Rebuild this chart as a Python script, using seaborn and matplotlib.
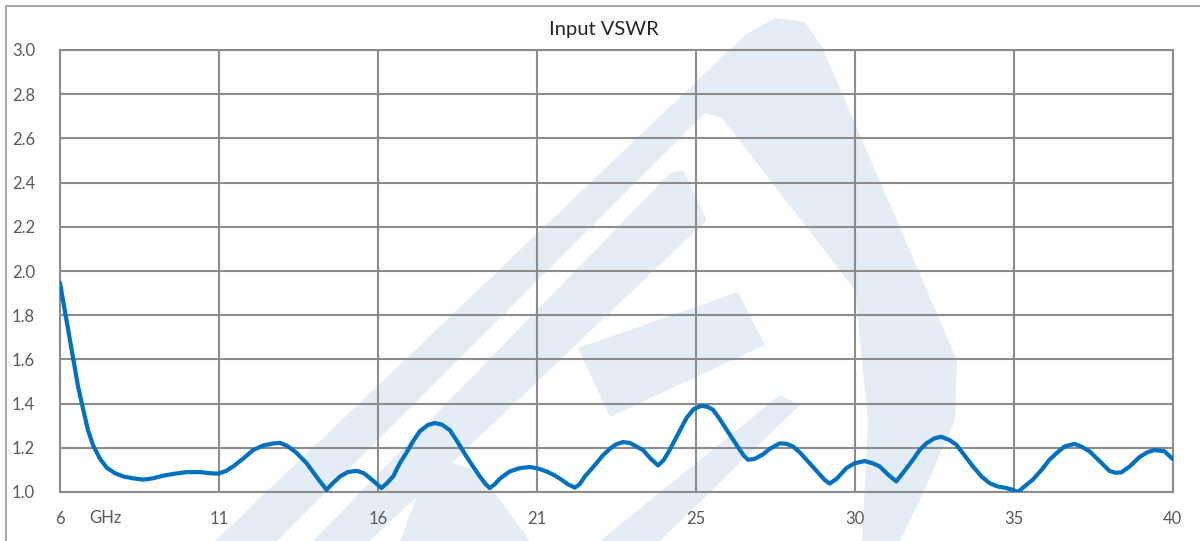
import matplotlib.pyplot as plt
import seaborn as sns
import pandas as pd
from matplotlib.patches import Polygon

# axis position in tick intervals (0 = 6 GHz ... 7 = 40 GHz) and VSWR
pos = [0.000, 0.038, 0.084, 0.113, 0.147, 0.176, 0.209, 0.252, 0.294, 0.346,
       0.398, 0.459, 0.524, 0.585, 0.650, 0.723, 0.797, 0.881, 0.943, 0.996,
       1.044, 1.090, 1.151, 1.216, 1.277, 1.342, 1.384, 1.426, 1.484, 1.552,
       1.623, 1.677, 1.717, 1.761, 1.811, 1.866, 1.912, 1.950, 1.987, 2.023,
       2.057, 2.096, 2.138, 2.182, 2.222, 2.264, 2.314, 2.358, 2.403, 2.453,
       2.503, 2.558, 2.604, 2.642, 2.679, 2.704, 2.736, 2.767, 2.830, 2.893,
       2.956, 3.006, 3.061, 3.113, 3.157, 3.195, 3.239, 3.270, 3.302, 3.333,
       3.375, 3.415, 3.459, 3.497, 3.543, 3.585, 3.629, 3.668, 3.711, 3.763,
       3.799, 3.836, 3.887, 3.942, 3.987, 4.036, 4.075, 4.109, 4.151, 4.214,
       4.264, 4.302, 4.329, 4.371, 4.423, 4.465, 4.528, 4.572, 4.612, 4.654,
       4.717, 4.767, 4.811, 4.843, 4.887, 4.948, 5.000, 5.063, 5.113, 5.157,
       5.208, 5.262, 5.308, 5.367, 5.409, 5.451, 5.503, 5.545, 5.597, 5.640,
       5.692, 5.744, 5.799, 5.849, 5.899, 5.954, 5.994, 6.027, 6.069, 6.121,
       6.176, 6.226, 6.277, 6.321, 6.384, 6.428, 6.478, 6.541, 6.604, 6.642,
       6.679, 6.730, 6.792, 6.843, 6.887, 6.950, 7.000]
vswr = [1.946, 1.79, 1.60, 1.48, 1.37, 1.28, 1.21, 1.15, 1.11, 1.085,
        1.07, 1.062, 1.056, 1.062, 1.074, 1.083, 1.09, 1.09, 1.085, 1.083,
        1.095, 1.116, 1.15, 1.19, 1.21, 1.22, 1.222, 1.21, 1.18, 1.13,
        1.06, 1.01, 1.04, 1.07, 1.09, 1.096, 1.085, 1.063, 1.04, 1.018,
        1.04, 1.07, 1.13, 1.18, 1.23, 1.275, 1.303, 1.312, 1.305, 1.28,
        1.225, 1.16, 1.11, 1.07, 1.035, 1.018, 1.035, 1.06, 1.093, 1.108,
        1.113, 1.107, 1.093, 1.075, 1.055, 1.035, 1.02, 1.035, 1.07, 1.095,
        1.13, 1.165, 1.195, 1.215, 1.226, 1.222, 1.205, 1.19, 1.155, 1.12,
        1.145, 1.19, 1.26, 1.335, 1.375, 1.39, 1.385, 1.372, 1.33, 1.26,
        1.205, 1.165, 1.146, 1.15, 1.17, 1.195, 1.22, 1.218, 1.206, 1.18,
        1.13, 1.09, 1.055, 1.038, 1.06, 1.108, 1.13, 1.14, 1.13, 1.116,
        1.08, 1.048, 1.09, 1.146, 1.19, 1.22, 1.243, 1.25, 1.235, 1.214,
        1.165, 1.116, 1.07, 1.04, 1.025, 1.018, 1.01, 1.00, 1.025, 1.056,
        1.10, 1.146, 1.18, 1.206, 1.218, 1.205, 1.184, 1.14, 1.095, 1.087,
        1.089, 1.115, 1.158, 1.18, 1.19, 1.184, 1.15]

tick_labels = ['6', '11', '16', '21', '25', '30', '35', '40']
y_ticks = [1.0, 1.2, 1.4, 1.6, 1.8, 2.0, 2.2, 2.4, 2.6, 2.8, 3.0]

df = pd.DataFrame({'pos': pos, 'VSWR': vswr})

sns.set_style("white")
plt.rcParams['font.family'] = ['Lato', 'DejaVu Sans']

W, H = 1200, 541
fig = plt.figure(figsize=(W / 100, H / 100), dpi=100)
ax = fig.add_axes([60 / W, 1 - 492 / H, (1172.5 - 60) / W, (492 - 50) / H])
ax.set_facecolor('none')

# faint logo watermark behind the chart (pixel coords of the picture)
wm = '#E4EDF6'
def px_poly(pts, color, z):
    p = Polygon([(x / W, 1 - y / H) for x, y in pts], closed=True,
                transform=fig.transFigure, facecolor=color, edgecolor='none', zorder=z)
    fig.add_artist(p)

px_poly([(215, 541), (745, 35), (775, 18), (805, 22), (822, 47), (957, 360),
         (955, 420), (920, 500), (900, 541)], wm, -3)
px_poly([(705, 113), (722, 118), (855, 290), (868, 420), (862, 541), (277, 541)], 'white', -2)
px_poly([(313, 541), (370, 541), (707, 220), (683, 170), (670, 173)], wm, -1)
px_poly([(578, 348), (738, 292), (765, 345), (610, 417)], wm, -1)
px_poly([(400, 541), (425, 475), (450, 462), (475, 470), (500, 500), (530, 541)], wm, -1)
px_poly([(600, 541), (660, 541), (800, 405), (780, 395)], wm, -1)

sns.lineplot(data=df, x='pos', y='VSWR', ax=ax, color='#0070C0', linewidth=3.0,
             zorder=3, legend=False, solid_joinstyle='round', solid_capstyle='round')

grid_c = '#8C8C8C'
ax.set_xlim(0, 7)
ax.set_ylim(1.0, 3.0)
ax.set_xticks(range(len(tick_labels)))
ax.set_xticklabels(tick_labels)
ax.set_yticks(y_ticks)
ax.set_yticklabels([f"{v:.1f}" for v in y_ticks])
ax.grid(True, color=grid_c, linewidth=1.5)
for s in ax.spines.values():
    s.set_color(grid_c)
    s.set_linewidth(1.5)
ax.tick_params(length=0, labelsize=12, labelcolor='#595959')
ax.tick_params(axis='y', pad=18)
ax.tick_params(axis='x', pad=14)
ax.set_xlabel('')
ax.set_ylabel('')

fig.text(105 / W, 1 - 518 / H, 'GHz', ha='center', va='center', fontsize=12, color='#595959')
fig.text(604 / W, 1 - 30 / H, 'Input VSWR', ha='center', va='center', fontsize=14.5, color='#262626')

# outer chart border (cropped at right and bottom)
fig.add_artist(plt.Line2D([6 / W, 6 / W, 1], [0, 1 - 6 / H, 1 - 6 / H],
                          transform=fig.transFigure, color='#A6A6A6', linewidth=1.5))

fig.savefig('out.png', dpi=100)
